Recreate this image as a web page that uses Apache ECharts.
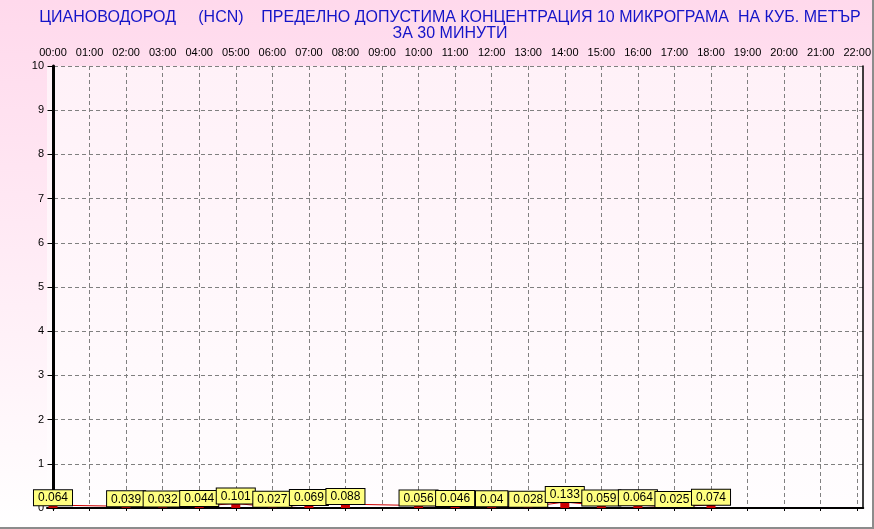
<!DOCTYPE html>
<html><head><meta charset="utf-8">
<script src="https://cdn.jsdelivr.net/npm/echarts@6/dist/echarts.min.js"></script>
<style>html,body{margin:0;padding:0;background:#fff}#c{width:874px;height:529px}</style>
</head><body><div id="c"></div>
<script>
const titleLines = ['ЦИАНОВОДОРОД     (HCN)    ПРЕДЕЛНО ДОПУСТИМА КОНЦЕНТРАЦИЯ 10 МИКРОГРАМА  НА КУБ. МЕТЪР', 'ЗА 30 МИНУТИ'];
const hours = [0,1,2,3,4,5,6,7,8,9,10,11,12,13,14,15,16,17,18];
const values = [0.064,null,0.039,0.032,0.044,0.101,0.027,0.069,0.088,null,0.056,0.046,0.04,0.028,0.133,0.059,0.064,0.025,0.074];
const tickHours = [0,1,2,3,4,5,6,7,8,9,10,11,12,13,14,15,16,17,18,19,20,21,22];
const yMin = 0, yMax = 10, yStep = 1;

const pts = hours.map((h,i)=>[h, values[i]]);
const chart = echarts.init(document.getElementById('c'), null, {renderer:'canvas'});
const fam = 'Liberation Sans, Arial, sans-serif';
chart.setOption({
  animation:false,
  backgroundColor:{type:'linear',x:0,y:0,x2:0,y2:1,colorStops:[{offset:0,color:'#FFD9EC'},{offset:1,color:'#FFFFFF'}]},
  title:{text:titleLines.join('\n'), left:445, textAlign:'center', top:5,
    textStyle:{color:'#1414C8', fontFamily:fam, fontSize:16, fontWeight:'normal', lineHeight:15.5}},
  grid:{left:47,right:9,top:66,bottom:21,show:true,borderWidth:0,
    backgroundColor:{type:'linear',x:0,y:0,x2:0,y2:1,colorStops:[{offset:0,color:'#FFF1F8'},{offset:1,color:'#FFFDFE'}]}},
  xAxis:{type:'value', position:'top', min:-0.164, max:22.164,
    axisLine:{show:true,lineStyle:{color:'#000',width:2}},
    axisTick:{show:true,inside:true,length:3,customValues:tickHours,lineStyle:{color:'#000'}},
    axisLabel:{customValues:tickHours, margin:8, color:'#000', fontFamily:fam, fontSize:11,
      formatter:v=>String(Math.round(v)).padStart(2,'0')+':00'},
    splitLine:{show:true,lineStyle:{color:'#808080',type:[4,3],width:1}}
  },
  yAxis:[{type:'value', min:yMin, max:yMax, interval:yStep,
    axisLine:{show:true,lineStyle:{color:'#000',width:3}},
    axisTick:{show:true,length:5,lineStyle:{color:'#000'}},
    axisLabel:{margin:3,color:'#000',fontFamily:fam,fontSize:11},
    splitLine:{show:true,lineStyle:{color:'#808080',type:[4,3],width:1}}
  },{type:'value', position:'right', min:yMin, max:yMax, interval:yStep,
    axisLine:{show:true,lineStyle:{color:'#000',width:1.5}},
    axisTick:{show:false}, axisLabel:{show:false}, splitLine:{show:false}}],
  graphic:[
    {type:'rect',shape:{x:872,y:0,width:2,height:529},style:{fill:'#8C8C8C'},silent:true},
    {type:'rect',shape:{x:0,y:527,width:874,height:2},style:{fill:'#8C8C8C'},silent:true}
  ],
  series:[
    {type:'line', data:pts, connectNulls:true, showSymbol:false, symbol:'none',
      lineStyle:{color:'#CC0000',width:1}, z:2},
    {type:'bar', data:pts, barWidth:9, itemStyle:{color:'#CC0000'}, z:3,
      label:{show:true, position:'top', distance:0, color:'#000', fontFamily:fam, fontSize:12,
        backgroundColor:'#FFFF80', borderColor:'#000', borderWidth:1, padding:[2,4,1,4],
        formatter:p=>String(p.value[1])}}
  ]
});
</script></body></html>
